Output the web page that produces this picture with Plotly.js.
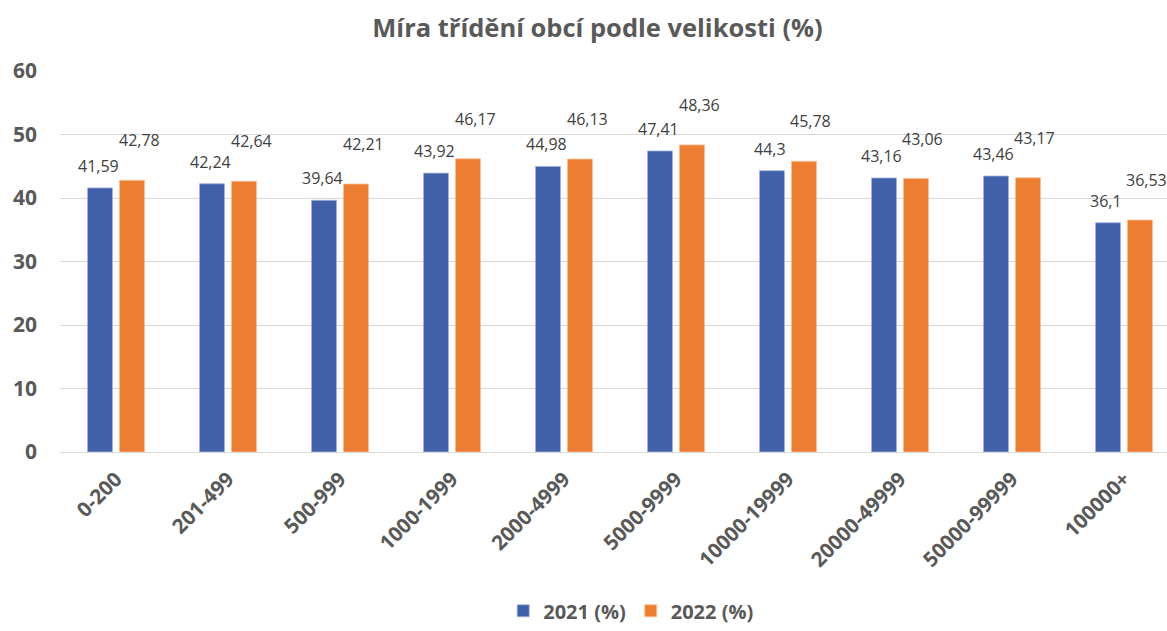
<!DOCTYPE html>
<html>
<head>
<meta charset="utf-8">
<script src="https://cdn.plot.ly/plotly-3.0.1.min.js"></script>
<style>html,body{margin:0;padding:0;background:#fff;}#chart{width:1167px;height:631px;}</style>
</head>
<body>
<div id="chart"></div>
<script>
const categories = ["0-200","201-499","500-999","1000-1999","2000-4999","5000-9999","10000-19999","20000-49999","50000-99999","100000+"];
const values2021 = [41.59,42.24,39.64,43.92,44.98,47.41,44.3,43.16,43.46,36.1];
const values2022 = [42.78,42.64,42.21,46.17,46.13,48.36,45.78,43.06,43.17,36.53];
const seriesNames = ["2021 (%)","2022 (%)"];

const fontFam = '"Open Sans", "Liberation Sans", sans-serif';
const blue = '#4160A9';
const orange = '#ED7D31';

function fmt(v){ return String(v).replace('.', ','); }

const traces = [
  {type:'bar', name:seriesNames[0], x:categories, y:values2021,
   marker:{color:blue, line:{color:'rgba(160,180,220,0.8)', width:1}}, hoverinfo:'skip'},
  {type:'bar', name:seriesNames[1], x:categories, y:values2022,
   marker:{color:orange, line:{color:'rgba(250,190,150,0.8)', width:1}}, hoverinfo:'skip'}
];

const annotations = [];
categories.forEach((c,i)=>{
  annotations.push({x:c, y:values2021[i], text:fmt(values2021[i]), showarrow:false,
    xshift:-18, yshift:22, font:{family:fontFam, size:16, color:'#404040'}});
  annotations.push({x:c, y:values2022[i], text:fmt(values2022[i]), showarrow:false,
    xshift:23, yshift:40, font:{family:fontFam, size:16, color:'#404040'}});
});

const layout = {
  width:1167, height:631,
  margin:{l:60, r:0, t:71, b:179},
  paper_bgcolor:'#fff', plot_bgcolor:'#fff',
  title:{text:'<b>Míra třídění obcí podle velikosti (%)</b>', x:0.512, xanchor:'center', y:0.955, yanchor:'middle',
    font:{family:fontFam, size:25.5, color:'#595959'}},
  barmode:'group', bargap:0.429, bargroupgap:0.219,
  separators:',.',
  xaxis:{type:'category', range:[-0.5, 9.384], tickangle:-45, showgrid:false, automargin:false,
    showline:true, linecolor:'#D9D9D9', linewidth:1, ticks:'', ticklabelstandoff:6,
    tickfont:{family:fontFam, size:20.5, color:'#595959', weight:'bold'}},
  yaxis:{range:[0,60], dtick:10, showgrid:true, gridcolor:'#D9D9D9', gridwidth:1, automargin:false,
    zeroline:false, showline:false, ticks:'', ticklabelstandoff:22,
    tickfont:{family:fontFam, size:21, color:'#595959', weight:'bold'}},
  legend:{orientation:'h', x:0.516, xanchor:'center', yref:'container', y:0.032, yanchor:'middle',
    font:{family:fontFam, size:20, color:'#595959', weight:'bold'}, itemwidth:30, traceorder:'normal'},
  annotations:annotations,
  showlegend:true
};

Plotly.newPlot('chart', traces, layout, {displayModeBar:false, staticPlot:true});
</script>
</body>
</html>
